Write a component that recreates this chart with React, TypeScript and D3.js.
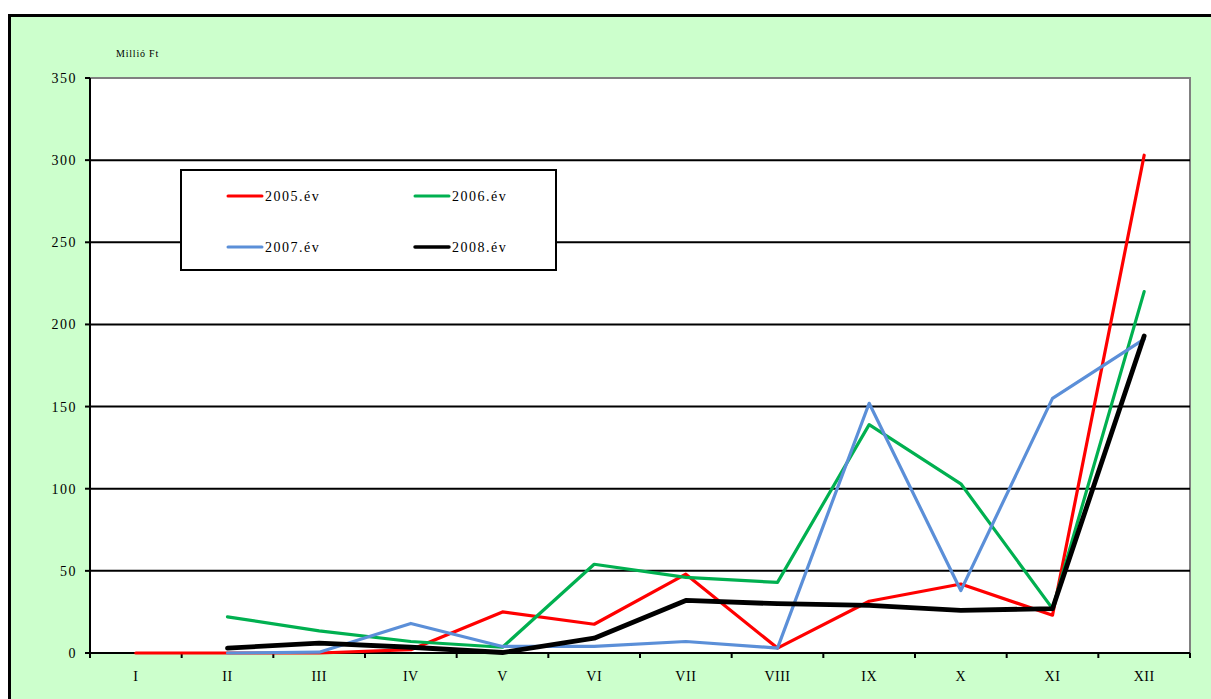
import React from "react";
import * as d3 from "d3";

const months = ["I", "II", "III", "IV", "V", "VI", "VII", "VIII", "IX", "X", "XI", "XII"];
const yTicks = [0, 50, 100, 150, 200, 250, 300, 350];
const s2005: (number | null)[] = [0, 0, 0, 2, 25, 17.5, 48, 3, 31.5, 42, 23, 303];
const s2006: (number | null)[] = [null, 22, 13.5, 7, 3.5, 54, 46, 43, 139, 103, 27, 220];
const s2007: (number | null)[] = [null, 0, 0.5, 18, 4, 4, 7, 3, 152, 38, 155, 191];
const s2008: (number | null)[] = [null, 3, 6, 3.5, 0.3, 9, 32, 30, 29, 26, 27, 193];
const seriesNames = ["2005.év", "2006.év", "2007.év", "2008.év"];
const seriesColors = ["#FF0000", "#00B050", "#5B8FD8", "#000000"];
const seriesWidths = [3.2, 3.2, 3.2, 4.8];
const seriesData = [s2005, s2006, s2007, s2008];

const W = 1211;
const H = 699;
const plot = { left: 90, right: 1190, top: 78, bottom: 653 };
const font = "'Liberation Serif', 'Times New Roman', serif";

export default function App() {
  React.useEffect(() => {
    document.body.style.margin = "0";
  }, []);
  const x = d3.scaleBand<string>().domain(months).range([plot.left, plot.right]);
  const y = d3.scaleLinear().domain([0, 350]).range([plot.bottom, plot.top]);
  const cx = (m: string) => (x(m) as number) + x.bandwidth() / 2;
  const line = d3
    .line<{ m: string; v: number | null }>()
    .defined((d) => d.v !== null)
    .x((d) => cx(d.m))
    .y((d) => y(d.v as number));
  const boundaries = d3.range(months.length + 1).map((i) => plot.left + i * x.bandwidth());

  const legendRows = [
    [0, 1],
    [2, 3],
  ];
  const legendX = [228, 415];
  const legendY = [196, 247];

  return (
    <svg width={W} height={H} style={{ position: "fixed", left: 0, top: 0, display: "block" }}>
      <rect x={0} y={0} width={W} height={H} fill="#ffffff" />
      <rect x={9.5} y={15.5} width={W + 20} height={H + 20} fill="#CCFFCC" stroke="#000" strokeWidth={3} />
      <text x={116} y={57} fontFamily={font} fontSize={10} letterSpacing={0.8} fill="#000">
        Millió Ft
      </text>
      <rect
        x={plot.left}
        y={plot.top}
        width={plot.right - plot.left}
        height={plot.bottom - plot.top}
        fill="#fff"
        stroke="#808080"
        strokeWidth={2}
      />
      {yTicks.map((t) => (
        <g key={t}>
          {t > 0 && t < 350 && (
            <line x1={plot.left} x2={plot.right} y1={y(t)} y2={y(t)} stroke="#000" strokeWidth={2} />
          )}
          <line x1={plot.left - 5} x2={plot.left} y1={y(t)} y2={y(t)} stroke="#000" strokeWidth={2} />
          <text
            x={77}
            y={y(t) + 5}
            textAnchor="end"
            fontFamily={font}
            fontSize={14}
            letterSpacing={1.5}
            fill="#000"
          >
            {t}
          </text>
        </g>
      ))}
      <line x1={plot.left} x2={plot.left} y1={plot.top} y2={plot.bottom} stroke="#000" strokeWidth={2} />
      <line x1={plot.left - 5} x2={plot.right} y1={plot.bottom} y2={plot.bottom} stroke="#000" strokeWidth={2} />
      {boundaries.map((b, i) => (
        <line key={i} x1={b} x2={b} y1={plot.bottom} y2={plot.bottom + 5} stroke="#000" strokeWidth={2} />
      ))}
      {months.map((m) => (
        <text
          key={m}
          x={cx(m)}
          y={681}
          textAnchor="middle"
          fontFamily={font}
          fontSize={14}
          letterSpacing={0.5}
          fill="#000"
        >
          {m}
        </text>
      ))}
      {seriesData.map((s, i) => (
        <path
          key={i}
          d={line(months.map((m, j) => ({ m, v: s[j] }))) || ""}
          fill="none"
          stroke={seriesColors[i]}
          strokeWidth={seriesWidths[i]}
          strokeLinejoin="round"
          strokeLinecap="round"
        />
      ))}
      <rect x={181} y={170} width={375} height={100} fill="#fff" stroke="#000" strokeWidth={2} />
      {legendRows.map((row, r) =>
        row.map((si, c) => (
          <g key={si}>
            <line
              x1={legendX[c]}
              x2={legendX[c] + 34}
              y1={legendY[r]}
              y2={legendY[r]}
              stroke={seriesColors[si]}
              strokeWidth={seriesWidths[si] === 4.8 ? 3.5 : 3}
              strokeLinecap="round"
            />
            <text
              x={legendX[c] + 37}
              y={legendY[r] + 5}
              fontFamily={font}
              fontSize={14}
              letterSpacing={1.5}
              fill="#000"
            >
              {seriesNames[si]}
            </text>
          </g>
        ))
      )}
    </svg>
  );
}
